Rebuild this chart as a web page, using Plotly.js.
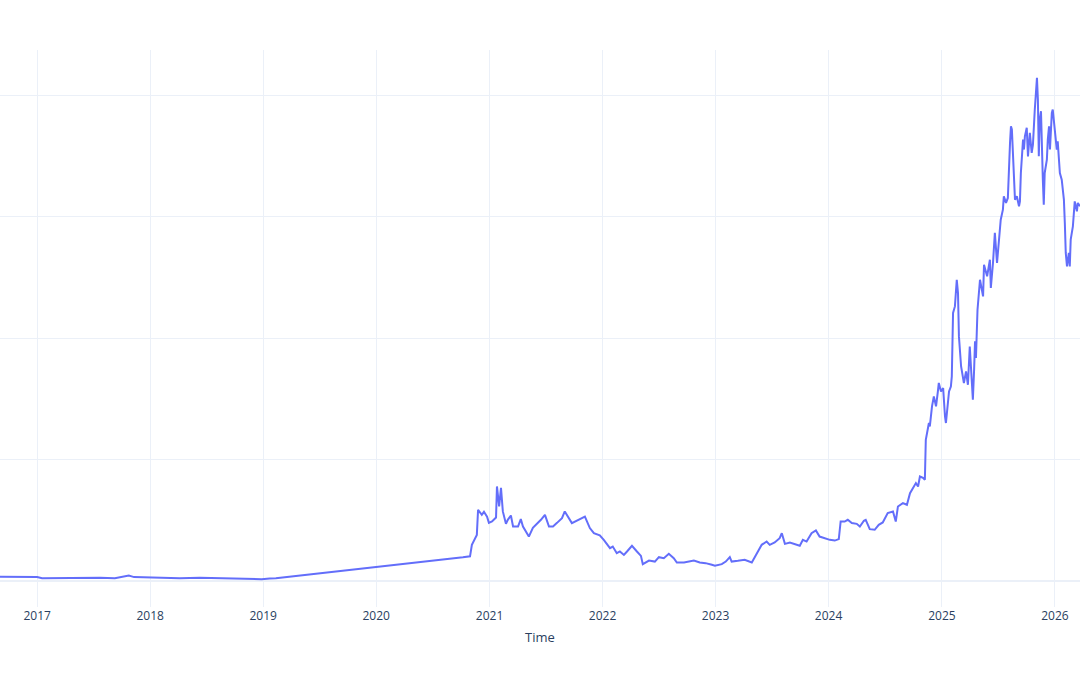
<!DOCTYPE html>
<html>
<head>
<meta charset="utf-8">
<script src="https://cdn.plot.ly/plotly-3.0.1.min.js"></script>
<style>html,body{margin:0;padding:0;background:#fff;}#chart{width:1080px;height:675px;}</style>
</head>
<body>
<div id="chart"></div>
<script>
// Time as decimal years
const timeYears = [
  2016.673, 2016.850, 2017.000, 2017.044, 2017.203, 2017.380, 2017.557, 2017.690, 2017.778, 2017.813,
  2017.858, 2018.000, 2018.176, 2018.264, 2018.441, 2018.618, 2018.795, 2018.927, 2018.989, 2019.060,
  2019.113,
  2020.767, 2020.829, 2020.846, 2020.890, 2020.899, 2020.932, 2020.952, 2020.979, 2020.996, 2021.023,
  2021.058, 2021.067, 2021.085, 2021.103, 2021.120, 2021.147, 2021.164, 2021.191, 2021.209, 2021.253,
  2021.279, 2021.297, 2021.350, 2021.386, 2021.456, 2021.492, 2021.527, 2021.562, 2021.598, 2021.642,
  2021.668, 2021.695, 2021.730, 2021.845, 2021.889, 2021.925, 2021.978, 2022.013, 2022.066, 2022.093,
  2022.128, 2022.155, 2022.190, 2022.217, 2022.261, 2022.305, 2022.340, 2022.358, 2022.411, 2022.464,
  2022.500, 2022.544, 2022.588, 2022.632, 2022.659, 2022.721, 2022.765, 2022.809, 2022.862, 2022.915,
  2022.968, 2022.995, 2023.056, 2023.092, 2023.127, 2023.145, 2023.198, 2023.260, 2023.322, 2023.357,
  2023.410, 2023.454, 2023.481, 2023.525, 2023.569, 2023.587, 2023.614, 2023.658, 2023.702, 2023.747,
  2023.773, 2023.808, 2023.852, 2023.888, 2023.923, 2023.967, 2024.011, 2024.056, 2024.091, 2024.109,
  2024.144, 2024.171, 2024.206, 2024.250, 2024.277, 2024.312, 2024.330, 2024.365, 2024.409, 2024.445,
  2024.480, 2024.524, 2024.569, 2024.595, 2024.613, 2024.657, 2024.692, 2024.719, 2024.745, 2024.772,
  2024.790, 2024.807, 2024.834, 2024.851, 2024.860, 2024.869, 2024.887, 2024.896, 2024.913, 2024.931,
  2024.949, 2024.966, 2024.975, 2024.993, 2025.011, 2025.028, 2025.037, 2025.064, 2025.081, 2025.090,
  2025.099, 2025.117, 2025.134, 2025.143, 2025.152, 2025.170, 2025.188, 2025.196, 2025.214, 2025.232,
  2025.249, 2025.258, 2025.276, 2025.285, 2025.294, 2025.302, 2025.316, 2025.338, 2025.365, 2025.373,
  2025.400, 2025.426, 2025.435, 2025.453, 2025.470, 2025.488, 2025.506, 2025.523, 2025.541, 2025.550,
  2025.568, 2025.585, 2025.603, 2025.612, 2025.621, 2025.630, 2025.647, 2025.665, 2025.683, 2025.691,
  2025.700, 2025.718, 2025.727, 2025.736, 2025.753, 2025.762, 2025.771, 2025.780, 2025.797, 2025.806,
  2025.824, 2025.833, 2025.842, 2025.851, 2025.859, 2025.868, 2025.877, 2025.895, 2025.904, 2025.912,
  2025.930, 2025.939, 2025.948, 2025.957, 2025.974, 2025.983, 2025.992, 2026.009, 2026.018, 2026.027,
  2026.036, 2026.045, 2026.062, 2026.080, 2026.089, 2026.098, 2026.107, 2026.124, 2026.133, 2026.142,
  2026.160, 2026.169, 2026.177, 2026.195, 2026.204, 2026.222
];
const values = [
  3.3, 3.3, 3.1, 2.1, 2.3, 2.6, 2.5, 2.2, 3.5, 4.4,
  3.1, 2.7, 2.6, 2.2, 2.5, 2.3, 2.1, 1.8, 1.4, 2.0,
  2.1,
  19.4, 20.2, 29.7, 37.9, 58.6, 54.4, 56.9, 52.8, 47.8, 48.9,
  52.2, 77.8, 61.3, 76.7, 57.2, 47.0, 50.3, 53.9, 44.8, 44.8,
  50.9, 44.8, 36.5, 43.7, 50.3, 54.4, 44.8, 44.8, 47.8, 51.7,
  57.2, 53.0, 47.6, 53.0, 43.5, 39.3, 37.5, 33.8, 27.0, 28.3,
  22.8, 24.2, 21.4, 24.2, 28.9, 24.2, 20.6, 13.8, 16.7, 15.9,
  19.5, 18.7, 22.3, 18.7, 15.1, 15.1, 15.9, 16.7, 15.1, 14.6,
  13.2, 12.4, 13.8, 15.9, 19.5, 15.9, 16.5, 17.3, 15.1, 21.4,
  29.7, 32.4, 29.7, 31.6, 35.2, 39.3, 30.5, 31.6, 30.5, 28.9,
  33.8, 32.4, 39.3, 41.5, 36.5, 35.2, 33.8, 33.2, 34.4, 48.9,
  48.9, 50.3, 47.6, 47.0, 44.8, 49.5, 50.3, 42.6, 42.1, 46.2,
  48.1, 55.8, 57.2, 48.9, 61.3, 64.1, 62.7, 72.3, 76.5, 80.6,
  77.8, 86.0, 84.9, 83.3, 116.3, 123.1, 130.1, 127.3, 143.8, 152.0,
  143.8, 156.1, 163.1, 156.1, 158.9, 135.5, 130.1, 156.1, 160.2, 168.5,
  220.8, 226.2, 248.2, 237.3, 201.5, 176.7, 168.5, 163.1, 172.6, 161.6,
  193.2, 174.0, 149.3, 174.0, 197.4, 183.7, 223.5, 248.2, 234.5, 260.6,
  251.0, 264.7, 241.4, 262.0, 286.8, 262.0, 284.0, 297.7, 306.0, 317.0,
  311.5, 315.6, 361.0, 374.7, 372.0, 352.7, 314.2, 317.0, 308.7, 312.8,
  336.2, 363.7, 355.5, 366.4, 373.4, 349.9, 361.0, 369.2, 352.7, 359.6,
  388.5, 404.9, 414.6, 396.7, 349.9, 380.2, 387.1, 330.7, 310.1, 336.2,
  347.2, 363.7, 374.7, 355.5, 385.7, 388.5, 378.8, 363.7, 355.5, 362.3,
  341.7, 336.2, 330.7, 314.2, 295.0, 270.3, 259.2, 270.3, 259.2, 281.2,
  292.2, 308.7, 312.8, 304.6, 311.5, 308.7
];

function yearToDate(d) {
  const y = Math.floor(d);
  const start = Date.UTC(y, 0, 1), end = Date.UTC(y + 1, 0, 1);
  return new Date(start + (d - y) * (end - start)).toISOString().slice(0, 10);
}
const dates = timeYears.map(yearToDate);

const trace = {
  x: dates,
  y: values,
  type: 'scatter',
  mode: 'lines',
  line: {color: '#636efa', width: 2},
  showlegend: false
};

const layout = {
  width: 1080,
  height: 675,
  margin: {l: 0, r: 0, t: 50, b: 68},
  paper_bgcolor: '#ffffff',
  plot_bgcolor: '#ffffff',
  font: {color: '#2a3f5f', size: 12},
  xaxis: {
    type: 'date',
    title: {text: 'Time', font: {size: 13}, standoff: 9},
    gridcolor: '#EBF0F8',
    showline: false,
    zeroline: false,
    ticks: '',
    dtick: 'M12',
    tickformat: '%Y'
  },
  yaxis: {
    showticklabels: false,
    gridcolor: '#EBF0F8',
    zerolinecolor: '#EBF0F8',
    zerolinewidth: 2,
    ticks: '',
    dtick: 100
  }
};

Plotly.newPlot('chart', [trace], layout, {displayModeBar: false});
</script>
</body>
</html>
